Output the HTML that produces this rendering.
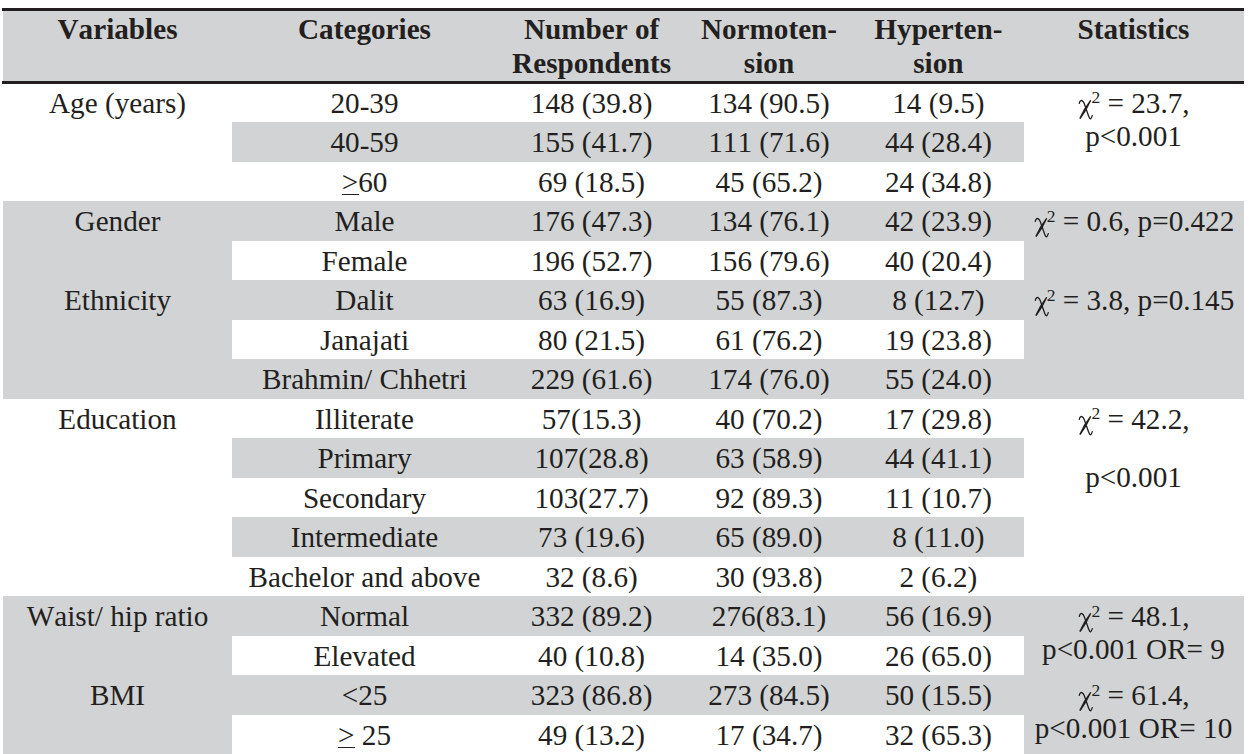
<!DOCTYPE html>
<html><head><meta charset="utf-8"><style>
html,body{margin:0;padding:0;background:#fff;width:1257px;height:754px;overflow:hidden;position:relative}
.r{position:absolute}
.t{position:absolute;width:600px;text-align:center;font-family:"Liberation Serif",serif;font-size:29.2px;line-height:29.2px;height:29.2px;color:#231f20;white-space:nowrap;font-kerning:none}
.t sup{font-size:60%;vertical-align:0;position:relative;top:-0.55em;line-height:0}
.ge{position:relative;display:inline-block}
.hy{position:relative;top:3px}
.chi{vertical-align:-7px;margin-left:1px;margin-right:-2px}
.ge::after{content:"";position:absolute;left:0;right:-1px;top:26px;height:1.5px;background:#231f20}
</style></head><body>
<div class="r" style="left:3px;top:11px;width:1241px;height:70px;background:#d1d3d4"></div>
<div class="r" style="left:2px;top:8px;width:1242px;height:3px;background:#231f20"></div>
<div class="r" style="left:2px;top:81px;width:1242px;height:3px;background:#231f20"></div>
<div class="r" style="left:3px;top:201.0px;width:1241px;height:39.5px;background:#d1d3d4"></div>
<div class="r" style="left:3px;top:280.0px;width:1241px;height:39.5px;background:#d1d3d4"></div>
<div class="r" style="left:3px;top:359.0px;width:1241px;height:39.5px;background:#d1d3d4"></div>
<div class="r" style="left:3px;top:596.0px;width:1241px;height:39.5px;background:#d1d3d4"></div>
<div class="r" style="left:3px;top:675.0px;width:1241px;height:39.5px;background:#d1d3d4"></div>
<div class="r" style="left:232px;top:122.0px;width:792px;height:39.5px;background:#d1d3d4"></div>
<div class="r" style="left:232px;top:438.0px;width:792px;height:39.5px;background:#d1d3d4"></div>
<div class="r" style="left:232px;top:517.0px;width:792px;height:39.5px;background:#d1d3d4"></div>
<div class="r" style="left:3px;top:240.5px;width:229px;height:39.5px;background:#d1d3d4"></div>
<div class="r" style="left:1024px;top:240.5px;width:220px;height:39.5px;background:#d1d3d4"></div>
<div class="r" style="left:3px;top:319.5px;width:229px;height:39.5px;background:#d1d3d4"></div>
<div class="r" style="left:1024px;top:319.5px;width:220px;height:39.5px;background:#d1d3d4"></div>
<div class="r" style="left:3px;top:635.5px;width:229px;height:39.5px;background:#d1d3d4"></div>
<div class="r" style="left:1024px;top:635.5px;width:220px;height:39.5px;background:#d1d3d4"></div>
<div class="r" style="left:3px;top:714.5px;width:229px;height:39.5px;background:#d1d3d4"></div>
<div class="r" style="left:1024px;top:714.5px;width:220px;height:39.5px;background:#d1d3d4"></div>
<div class="t" style="left:-182.50px;top:14.68px;font-weight:bold;">Variables</div>
<div class="t" style="left:64.50px;top:14.68px;font-weight:bold;">Categories</div>
<div class="t" style="left:291.60px;top:14.68px;font-weight:bold;">Number of</div>
<div class="t" style="left:291.60px;top:48.78px;font-weight:bold;">Respondents</div>
<div class="t" style="left:469.00px;top:14.68px;font-weight:bold;">Normoten-</div>
<div class="t" style="left:469.00px;top:48.78px;font-weight:bold;">sion</div>
<div class="t" style="left:638.40px;top:14.68px;font-weight:bold;">Hyperten-</div>
<div class="t" style="left:638.40px;top:48.78px;font-weight:bold;">sion</div>
<div class="t" style="left:833.50px;top:14.68px;font-weight:bold;">Statistics</div>
<div class="t" style="left:-182.50px;top:88.73px;">Age (years)</div>
<div class="t" style="left:64.50px;top:88.73px;">20<span class="hy">-</span>39</div>
<div class="t" style="left:291.60px;top:88.73px;">148 (39.8)</div>
<div class="t" style="left:469.00px;top:88.73px;">134 (90.5)</div>
<div class="t" style="left:638.40px;top:88.73px;">14 (9.5)</div>
<div class="t" style="left:64.50px;top:128.23px;">40<span class="hy">-</span>59</div>
<div class="t" style="left:291.60px;top:128.23px;">155 (41.7)</div>
<div class="t" style="left:469.00px;top:128.23px;">111 (71.6)</div>
<div class="t" style="left:638.40px;top:128.23px;">44 (28.4)</div>
<div class="t" style="left:64.50px;top:167.73px;"><span class="ge">&gt;</span>60</div>
<div class="t" style="left:291.60px;top:167.73px;">69 (18.5)</div>
<div class="t" style="left:469.00px;top:167.73px;">45 (65.2)</div>
<div class="t" style="left:638.40px;top:167.73px;">24 (34.8)</div>
<div class="t" style="left:-182.50px;top:207.23px;">Gender</div>
<div class="t" style="left:64.50px;top:207.23px;">Male</div>
<div class="t" style="left:291.60px;top:207.23px;">176 (47.3)</div>
<div class="t" style="left:469.00px;top:207.23px;">134 (76.1)</div>
<div class="t" style="left:638.40px;top:207.23px;">42 (23.9)</div>
<div class="t" style="left:64.50px;top:246.73px;">Female</div>
<div class="t" style="left:291.60px;top:246.73px;">196 (52.7)</div>
<div class="t" style="left:469.00px;top:246.73px;">156 (79.6)</div>
<div class="t" style="left:638.40px;top:246.73px;">40 (20.4)</div>
<div class="t" style="left:-182.50px;top:286.23px;">Ethnicity</div>
<div class="t" style="left:64.50px;top:286.23px;">Dalit</div>
<div class="t" style="left:291.60px;top:286.23px;">63 (16.9)</div>
<div class="t" style="left:469.00px;top:286.23px;">55 (87.3)</div>
<div class="t" style="left:638.40px;top:286.23px;">8 (12.7)</div>
<div class="t" style="left:64.50px;top:325.73px;">Janajati</div>
<div class="t" style="left:291.60px;top:325.73px;">80 (21.5)</div>
<div class="t" style="left:469.00px;top:325.73px;">61 (76.2)</div>
<div class="t" style="left:638.40px;top:325.73px;">19 (23.8)</div>
<div class="t" style="left:64.50px;top:365.23px;">Brahmin/ Chhetri</div>
<div class="t" style="left:291.60px;top:365.23px;">229 (61.6)</div>
<div class="t" style="left:469.00px;top:365.23px;">174 (76.0)</div>
<div class="t" style="left:638.40px;top:365.23px;">55 (24.0)</div>
<div class="t" style="left:-182.50px;top:404.73px;">Education</div>
<div class="t" style="left:64.50px;top:404.73px;">Illiterate</div>
<div class="t" style="left:291.60px;top:404.73px;">57(15.3)</div>
<div class="t" style="left:469.00px;top:404.73px;">40 (70.2)</div>
<div class="t" style="left:638.40px;top:404.73px;">17 (29.8)</div>
<div class="t" style="left:64.50px;top:444.23px;">Primary</div>
<div class="t" style="left:291.60px;top:444.23px;">107(28.8)</div>
<div class="t" style="left:469.00px;top:444.23px;">63 (58.9)</div>
<div class="t" style="left:638.40px;top:444.23px;">44 (41.1)</div>
<div class="t" style="left:64.50px;top:483.73px;">Secondary</div>
<div class="t" style="left:291.60px;top:483.73px;">103(27.7)</div>
<div class="t" style="left:469.00px;top:483.73px;">92 (89.3)</div>
<div class="t" style="left:638.40px;top:483.73px;">11 (10.7)</div>
<div class="t" style="left:64.50px;top:523.23px;">Intermediate</div>
<div class="t" style="left:291.60px;top:523.23px;">73 (19.6)</div>
<div class="t" style="left:469.00px;top:523.23px;">65 (89.0)</div>
<div class="t" style="left:638.40px;top:523.23px;">8 (11.0)</div>
<div class="t" style="left:64.50px;top:562.73px;">Bachelor and above</div>
<div class="t" style="left:291.60px;top:562.73px;">32 (8.6)</div>
<div class="t" style="left:469.00px;top:562.73px;">30 (93.8)</div>
<div class="t" style="left:638.40px;top:562.73px;">2 (6.2)</div>
<div class="t" style="left:-182.50px;top:602.23px;">Waist/ hip ratio</div>
<div class="t" style="left:64.50px;top:602.23px;">Normal</div>
<div class="t" style="left:291.60px;top:602.23px;">332 (89.2)</div>
<div class="t" style="left:469.00px;top:602.23px;">276(83.1)</div>
<div class="t" style="left:638.40px;top:602.23px;">56 (16.9)</div>
<div class="t" style="left:64.50px;top:641.73px;">Elevated</div>
<div class="t" style="left:291.60px;top:641.73px;">40 (10.8)</div>
<div class="t" style="left:469.00px;top:641.73px;">14 (35.0)</div>
<div class="t" style="left:638.40px;top:641.73px;">26 (65.0)</div>
<div class="t" style="left:-182.50px;top:681.23px;">BMI</div>
<div class="t" style="left:64.50px;top:681.23px;">&lt;25</div>
<div class="t" style="left:291.60px;top:681.23px;">323 (86.8)</div>
<div class="t" style="left:469.00px;top:681.23px;">273 (84.5)</div>
<div class="t" style="left:638.40px;top:681.23px;">50 (15.5)</div>
<div class="t" style="left:64.50px;top:720.73px;"><span class="ge">&gt;</span> 25</div>
<div class="t" style="left:291.60px;top:720.73px;">49 (13.2)</div>
<div class="t" style="left:469.00px;top:720.73px;">17 (34.7)</div>
<div class="t" style="left:638.40px;top:720.73px;">32 (65.3)</div>
<div class="t" style="left:833.50px;top:88.73px;"><svg class="chi" width="15" height="21" viewBox="0 0 15 21"><path d="M1.2,4.8 C1.6,2 3,1.2 4,1.6 C5.5,2.5 6,4 6.4,5 L10.6,17 C11.3,19 12.3,20 12.7,19.7 C13.5,19.2 14,17.5 14.5,16.1" fill="none" stroke="#231f20" stroke-width="1.3"/><path d="M12.1,0.9 L13.3,1.6 L8.5,11.1 L2.6,20.1 L1.2,19.3 L6.1,9.8 Z" fill="#231f20"/></svg><sup>2</sup> = 23.7,</div>
<div class="t" style="left:833.50px;top:121.73px;">p&lt;0.001</div>
<div class="t" style="left:833.50px;top:207.23px;"><svg class="chi" width="15" height="21" viewBox="0 0 15 21"><path d="M1.2,4.8 C1.6,2 3,1.2 4,1.6 C5.5,2.5 6,4 6.4,5 L10.6,17 C11.3,19 12.3,20 12.7,19.7 C13.5,19.2 14,17.5 14.5,16.1" fill="none" stroke="#231f20" stroke-width="1.3"/><path d="M12.1,0.9 L13.3,1.6 L8.5,11.1 L2.6,20.1 L1.2,19.3 L6.1,9.8 Z" fill="#231f20"/></svg><sup>2</sup> = 0.6, p=0.422</div>
<div class="t" style="left:833.50px;top:286.23px;"><svg class="chi" width="15" height="21" viewBox="0 0 15 21"><path d="M1.2,4.8 C1.6,2 3,1.2 4,1.6 C5.5,2.5 6,4 6.4,5 L10.6,17 C11.3,19 12.3,20 12.7,19.7 C13.5,19.2 14,17.5 14.5,16.1" fill="none" stroke="#231f20" stroke-width="1.3"/><path d="M12.1,0.9 L13.3,1.6 L8.5,11.1 L2.6,20.1 L1.2,19.3 L6.1,9.8 Z" fill="#231f20"/></svg><sup>2</sup> = 3.8, p=0.145</div>
<div class="t" style="left:833.50px;top:404.73px;"><svg class="chi" width="15" height="21" viewBox="0 0 15 21"><path d="M1.2,4.8 C1.6,2 3,1.2 4,1.6 C5.5,2.5 6,4 6.4,5 L10.6,17 C11.3,19 12.3,20 12.7,19.7 C13.5,19.2 14,17.5 14.5,16.1" fill="none" stroke="#231f20" stroke-width="1.3"/><path d="M12.1,0.9 L13.3,1.6 L8.5,11.1 L2.6,20.1 L1.2,19.3 L6.1,9.8 Z" fill="#231f20"/></svg><sup>2</sup> = 42.2,</div>
<div class="t" style="left:833.50px;top:462.53px;">p&lt;0.001</div>
<div class="t" style="left:833.50px;top:602.23px;"><svg class="chi" width="15" height="21" viewBox="0 0 15 21"><path d="M1.2,4.8 C1.6,2 3,1.2 4,1.6 C5.5,2.5 6,4 6.4,5 L10.6,17 C11.3,19 12.3,20 12.7,19.7 C13.5,19.2 14,17.5 14.5,16.1" fill="none" stroke="#231f20" stroke-width="1.3"/><path d="M12.1,0.9 L13.3,1.6 L8.5,11.1 L2.6,20.1 L1.2,19.3 L6.1,9.8 Z" fill="#231f20"/></svg><sup>2</sup> = 48.1,</div>
<div class="t" style="left:833.50px;top:635.23px;">p&lt;0.001 OR= 9</div>
<div class="t" style="left:833.50px;top:681.23px;"><svg class="chi" width="15" height="21" viewBox="0 0 15 21"><path d="M1.2,4.8 C1.6,2 3,1.2 4,1.6 C5.5,2.5 6,4 6.4,5 L10.6,17 C11.3,19 12.3,20 12.7,19.7 C13.5,19.2 14,17.5 14.5,16.1" fill="none" stroke="#231f20" stroke-width="1.3"/><path d="M12.1,0.9 L13.3,1.6 L8.5,11.1 L2.6,20.1 L1.2,19.3 L6.1,9.8 Z" fill="#231f20"/></svg><sup>2</sup> = 61.4,</div>
<div class="t" style="left:833.50px;top:714.23px;">p&lt;0.001 OR= 10</div>
</body></html>
